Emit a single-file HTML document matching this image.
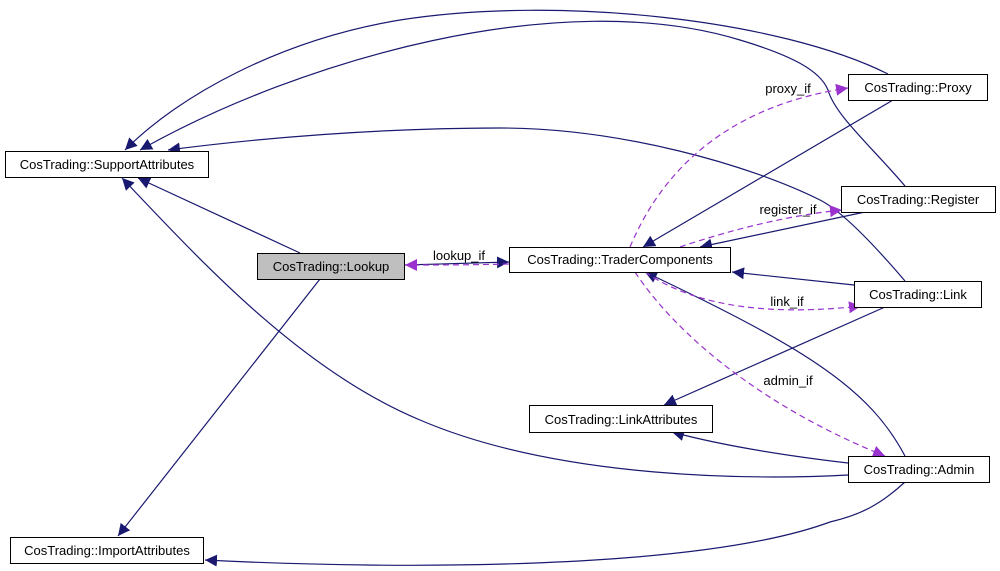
<!DOCTYPE html>
<html><head><meta charset="utf-8"><style>
body{margin:0;background:#fff;}
svg{display:block;font-family:"Liberation Sans",sans-serif;}
text{font-size:13px;fill:#000;}
</style></head><body>
<svg width="1000" height="571" viewBox="0 0 1000 571" xmlns="http://www.w3.org/2000/svg">
<defs>
<marker id="n" viewBox="0 0 10 10" refX="10" refY="5" markerWidth="12" markerHeight="12" markerUnits="userSpaceOnUse" orient="auto"><path d="M0,0L10,5L0,10z" fill="#191970"/></marker>
<marker id="p" viewBox="0 0 10 10" refX="10" refY="5" markerWidth="12" markerHeight="12" markerUnits="userSpaceOnUse" orient="auto"><path d="M0,0L10,5L0,10z" fill="#9a32cd"/></marker>
</defs>
<g fill="none" stroke="#191970" stroke-width="1.2" marker-end="url(#n)">
<path d="M888,74 C780,20 560,-5 400,20 C280,40 180,95 125,150"/>
<path d="M905,186 C870,145 835,115 828,90 C820,70 790,55 740,40 C560,-15 300,60 140,150"/>
<path d="M905,281 C870,240 840,210 820,200 C750,165 620,128 500,128 C380,128 260,138 168,150"/>
<path d="M300,253 L138,178"/>
<path d="M848,475 C760,480 560,480 420,420 C300,370 200,260 122,178"/>
<path d="M320,279 L118,536"/>
<path d="M905,482 C880,505 860,515 830,522 C700,570 400,570 205,560"/>
<path d="M404,265 C440,264 480,263 509,262"/>
<path d="M893,100 L643,247"/>
<path d="M865,212 L700,247"/>
<path d="M854,285 L732,272"/>
<path d="M905,456 C870,390 810,350 645,272"/>
<path d="M885,307 L664,405"/>
<path d="M848,463 C780,455 720,445 672,432"/>
</g>
<g fill="none" stroke="#9a32cd" stroke-width="1.2" stroke-dasharray="6,4" marker-end="url(#p)">
<path d="M509,264 C470,265 440,265 405,265"/>
<path d="M630,247 C650,200 700,110 848,88"/>
<path d="M680,247 C730,230 790,215 842,210"/>
<path d="M645,272 C700,310 780,315 861,306"/>
<path d="M635,272 C680,340 770,410 885,456"/>
</g>
<g stroke="#000" stroke-width="1" fill="#fff">
<rect x="5.5" y="151.5" width="203" height="26"/>
<rect x="257.5" y="253.5" width="147" height="26" fill="#bfbfbf"/>
<rect x="509.5" y="247.5" width="221" height="25"/>
<rect x="848.5" y="74.5" width="139" height="26"/>
<rect x="841.5" y="186.5" width="154" height="26"/>
<rect x="854.5" y="281.5" width="127" height="26"/>
<rect x="529.5" y="405.5" width="183" height="27"/>
<rect x="848.5" y="456.5" width="141" height="26"/>
<rect x="10.5" y="537.5" width="193" height="26"/>
</g>
<g text-anchor="middle">
<text x="107" y="169">CosTrading::SupportAttributes</text>
<text x="331" y="271">CosTrading::Lookup</text>
<text x="620" y="264">CosTrading::TraderComponents</text>
<text x="918" y="92">CosTrading::Proxy</text>
<text x="918" y="204">CosTrading::Register</text>
<text x="918" y="299">CosTrading::Link</text>
<text x="621" y="424">CosTrading::LinkAttributes</text>
<text x="919" y="474">CosTrading::Admin</text>
<text x="107" y="555">CosTrading::ImportAttributes</text>
<text x="459" y="260">lookup_if</text>
<text x="788" y="93">proxy_if</text>
<text x="788" y="214">register_if</text>
<text x="787" y="306">link_if</text>
<text x="788" y="385">admin_if</text>
</g>
</svg>
</body></html>
